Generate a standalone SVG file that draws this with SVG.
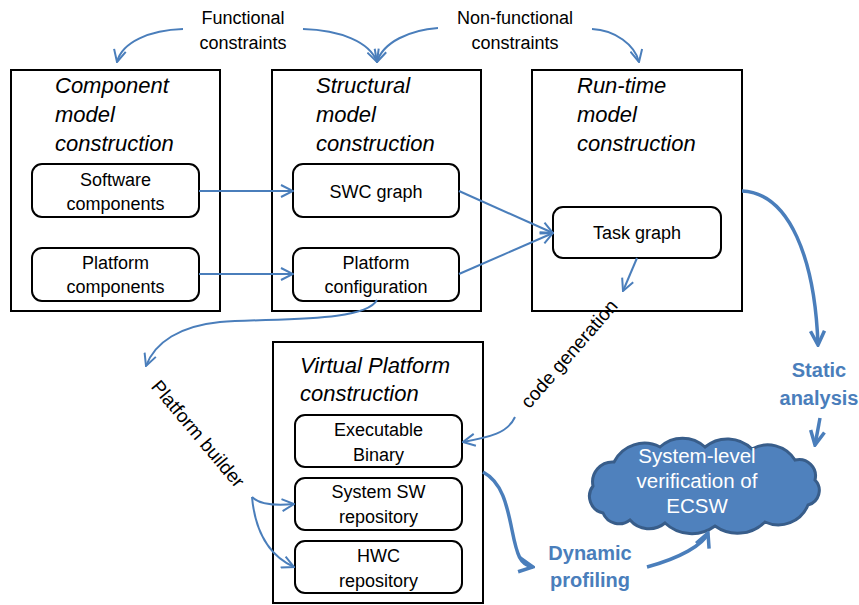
<svg xmlns="http://www.w3.org/2000/svg" width="859" height="605" viewBox="0 0 859 605">
<style>
.box{fill:#fff;stroke:#000;stroke-width:2}
.inner{fill:#fff;stroke:#000;stroke-width:2}
.title{font-family:"Liberation Sans",Arial,sans-serif;font-style:italic;font-size:22px;fill:#000}
.lbl{font-family:"Liberation Sans",Arial,sans-serif;font-size:18px;fill:#000;text-anchor:middle}
.blue{font-family:"Liberation Sans",Arial,sans-serif;font-size:20px;font-weight:bold;fill:#4a7ebb;text-anchor:middle}
.cl{font-family:"Liberation Sans",Arial,sans-serif;font-size:20.5px;fill:#fff;text-anchor:middle}
.c{fill:none;stroke:#4a7ebb;stroke-width:2;marker-end:url(#ah)}
.ct{fill:none;stroke:#4a7ebb;stroke-width:3.5;marker-end:url(#aht)}
.cn{fill:none;stroke:#4a7ebb;stroke-width:2}
</style>
<defs>
<marker id="ah" markerUnits="userSpaceOnUse" viewBox="0 0 14 14" refX="13" refY="7" markerWidth="14" markerHeight="14" orient="auto"><path d="M1,1 L13,7 L1,13" fill="none" stroke="#4a7ebb" stroke-width="2"/></marker>
<marker id="aht" markerUnits="userSpaceOnUse" viewBox="0 0 18 18" refX="16" refY="9" markerWidth="18" markerHeight="18" orient="auto"><path d="M2,2 L16,9 L2,16" fill="none" stroke="#4a7ebb" stroke-width="3.5"/></marker>
</defs>
<rect width="859" height="605" fill="#fff"/>

<g id="component-model">
<rect class="box" x="11" y="70" width="209" height="241"/>
<text class="title" x="55" y="93">Component</text>
<text class="title" x="55" y="122">model</text>
<text class="title" x="55" y="151">construction</text>
</g>
<g id="software-components">
<rect class="inner" x="32" y="164" width="167" height="53" rx="10"/>
<text class="lbl" x="115.5" y="186">Software</text>
<text class="lbl" x="115.5" y="210">components</text>
</g>
<g id="platform-components">
<rect class="inner" x="32" y="248" width="167" height="53" rx="10"/>
<text class="lbl" x="115.5" y="269">Platform</text>
<text class="lbl" x="115.5" y="293">components</text>
</g>

<g id="structural-model">
<rect class="box" x="272" y="70" width="209" height="241"/>
<text class="title" x="316" y="93">Structural</text>
<text class="title" x="316" y="122">model</text>
<text class="title" x="316" y="151">construction</text>
</g>
<g id="swc-graph">
<rect class="inner" x="293" y="164" width="166" height="53" rx="10"/>
<text class="lbl" x="376" y="198">SWC graph</text>
</g>
<g id="platform-configuration">
<rect class="inner" x="293" y="248" width="166" height="53" rx="10"/>
<text class="lbl" x="376" y="269">Platform</text>
<text class="lbl" x="376" y="293">configuration</text>
</g>

<g id="runtime-model">
<rect class="box" x="532" y="70" width="210" height="241"/>
<text class="title" x="577" y="93">Run-time</text>
<text class="title" x="577" y="122">model</text>
<text class="title" x="577" y="151">construction</text>
</g>
<g id="task-graph">
<rect class="inner" x="553" y="207" width="168" height="51" rx="10"/>
<text class="lbl" x="637" y="239">Task graph</text>
</g>

<g id="virtual-platform">
<rect class="box" x="273" y="342" width="210" height="261"/>
<text class="title" x="300" y="373">Virtual Platform</text>
<text class="title" x="300" y="401">construction</text>
</g>
<g id="executable-binary">
<rect class="inner" x="295" y="415" width="167" height="52" rx="10"/>
<text class="lbl" x="378.5" y="436">Executable</text>
<text class="lbl" x="378.5" y="461">Binary</text>
</g>
<g id="system-sw-repository">
<rect class="inner" x="295" y="478" width="167" height="52" rx="10"/>
<text class="lbl" x="378.5" y="498">System SW</text>
<text class="lbl" x="378.5" y="523">repository</text>
</g>
<g id="hwc-repository">
<rect class="inner" x="295" y="541" width="167" height="52" rx="10"/>
<text class="lbl" x="378.5" y="562">HWC</text>
<text class="lbl" x="378.5" y="587">repository</text>
</g>

<g id="functional-constraints">
<text class="lbl" x="243" y="24" font-size="18.5">Functional</text>
<text class="lbl" x="243" y="49" font-size="18.5">constraints</text>
</g>
<g id="nonfunctional-constraints">
<text class="lbl" x="515" y="24" font-size="18.5">Non-functional</text>
<text class="lbl" x="515" y="49" font-size="18.5">constraints</text>
</g>

<g id="verification-cloud">
<path d="M603,513 A17,17 0 0 1 593,486 A20,20 0 0 1 614,462 A34,34 0 0 1 660,447 A33,33 0 0 1 705,447 A35,35 0 0 1 752,449 A32,32 0 0 1 795,460 A16.5,16.5 0 0 1 815,480 A15,15 0 0 1 808,505 A32,32 0 0 1 765,522 A39,39 0 0 1 715,526 A39,39 0 0 1 665,523 A25,25 0 0 1 630,520 A17.5,17.5 0 0 1 603,513 Z" fill="#4f81bd" stroke="#385d8a" stroke-width="3"/>
<text class="cl" x="697" y="463">System-level</text>
<text class="cl" x="697" y="488">verification of</text>
<text class="cl" x="697" y="513">ECSW</text>
</g>
<g id="static-analysis">
<text class="blue" x="819" y="377">Static</text>
<text class="blue" x="819" y="405">analysis</text>
</g>
<g id="dynamic-profiling">
<text class="blue" x="590" y="560">Dynamic</text>
<text class="blue" x="590" y="587">profiling</text>
</g>

<g id="connectors">
<path class="c" d="M183,29 C150,30 122,42 117,62"/>
<path class="c" d="M303,29 C340,30 370,42 377,62"/>
<path class="c" d="M438,28 C410,30 383,42 377,62"/>
<path class="c" d="M592,29 C615,30 635,45 639,62"/>
<path class="c" d="M199,191 L293,191"/>
<path class="c" d="M199,274 L293,274"/>
<path class="c" d="M459,191 L553,233"/>
<path class="c" d="M459,274 L553,233"/>
<path class="c" d="M637,258 L623,291"/>
<path class="c" d="M377,300 C365,322 280,318 220,322 C180,326 155,342 146,366"/>
<path class="c" d="M252,497 Q262,507 294,504"/>
<path class="c" d="M252,497 C255,530 268,555 294,567"/>
<path class="c" d="M515,417 C508,433 490,437 463,442"/>
<path class="ct" d="M742,191 C790,193 815,260 818,345"/>
<path class="ct" d="M820,418 L815,445"/>
<path class="ct" d="M483,472 C502,482 507,505 512,530 C517,555 520,565 533,567"/>
<path class="ct" d="M647,567 C680,558 703,545 708,533"/>
<text font-family="'Liberation Sans',Arial,sans-serif" font-size="19" fill="#000" text-anchor="middle" transform="translate(574,358) rotate(-49)">code generation</text>
<text font-family="'Liberation Sans',Arial,sans-serif" font-size="19" fill="#000" text-anchor="middle" transform="translate(193,438) rotate(50)">Platform builder</text>
</g>
</svg>
